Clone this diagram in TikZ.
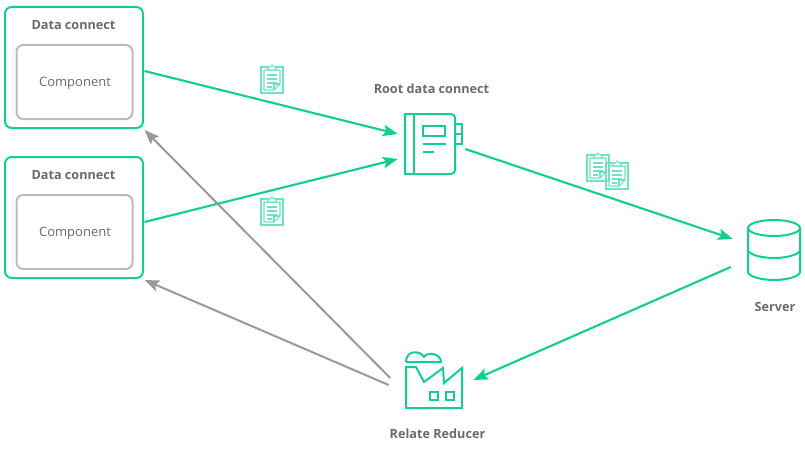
\documentclass[tikz,border=0pt]{standalone}
\usepackage{fontspec}
\setmainfont{Open Sans}
\usetikzlibrary{arrows.meta,calc}
\definecolor{connectgreen}{HTML}{12CE8F}
\definecolor{arrowgray}{HTML}{999999}
\definecolor{innergray}{HTML}{BBBBBB}
\definecolor{textgray}{HTML}{6A6A6A}
\tikzset{
  pics/clipboard/.style = {code = {
    \draw[paper] (-11,-13) rectangle (11,13);
    \draw[paper] (-8,-10) -- (8,-10) -- (8,4) -- (2,10) -- (-8,10) -- cycle;
    \draw[paper,fill=white] (-4,-10) -- (-4,-13) -- (-2,-13) -- (0,-15) -- (2,-13) -- (4,-13) -- (4,-10) -- cycle;
    \draw[paper] (2,10) -- (2,4) -- (8,4);
    \draw[paper] (-5,-5) -- (5,-5);
    \draw[paper] (-5,-1) -- (5,-1);
    \draw[paper] (-5,3) -- (5,3);
    \draw[paper] (-5,7) -- (0,7);
  }}
}
\begin{document}
\begin{tikzpicture}[
     x=0.75pt, y=-0.75pt,
     >={Stealth[length=11pt,width=8.5pt,inset=2pt]},
     paper/.style = {draw=connectgreen!60, line width=0.8pt},
     dcbox/.style = {rectangle, draw=connectgreen, line width=1.5pt, rounded corners=5pt, minimum width=103.5pt, minimum height=90.75pt},
     compbox/.style = {rectangle, draw=innergray, line width=1.5pt, rounded corners=5pt, minimum width=87pt, minimum height=55.5pt},
     icon/.style = {rectangle, inner sep=0pt, minimum width=39pt, minimum height=46pt},
     ink/.style = {draw=connectgreen, line width=1.5pt},
     title/.style = {text=textgray, font=\fontsize{9.5}{11}\selectfont\bfseries},
     plain/.style = {text=textgray, font=\fontsize{9.75}{11}\selectfont},
     green/.style = {->, draw=connectgreen, line width=1.6pt},
     gray/.style = {->, draw=arrowgray, line width=1.5pt}
                        ]
\useasboundingbox (0,0) rectangle (805,453);
% data connect boxes
\node (dcone)[dcbox] at (74,67.5) {};
\node (compone)[compbox] at (74.5,82) {};
\node (dconelabel)[title] at (73.5,25) {Data connect};
\node (componelabel)[plain] at (75,83) {Component};
\node (dctwo)[dcbox] at (74,217.5) {};
\node (comptwo)[compbox] at (74.5,232) {};
\node (dctwolabel)[title] at (73.5,175) {Data connect};
\node (comptwolabel)[plain] at (75,233) {Component};
% root data connect
\node (root)[icon] at (430,143.5) {};
\node (rootlabel)[title] at (431.5,89) {Root data connect};
\draw[ink] (455,120) -- (455,170) arc (0:90:4) -- (405,174) -- (405,114) -- (451,114) arc (-90:0:4) -- cycle;
\draw[ink] (413.5,114) -- (413.5,174);
\draw[ink] (455,124) -- (461.5,124) -- (461.5,144) -- (455,144);
\draw[ink] (455,134) -- (461.5,134);
\draw[ink] (423,126) rectangle (445,136);
\draw[ink] (423,144) -- (446,144);
\draw[ink] (423,152) -- (434,152);
% server
\node (server)[icon] at (774,250) {};
\node (serverlabel)[title] at (775,307) {Server};
\draw[ink] (774,228) ellipse (26 and 8);
\draw[ink] (748,228) -- (748,272) .. controls (748,276) and (760,280) .. (774,280) .. controls (788,280) and (800,276) .. (800,272) -- (800,228);
\draw[ink] (748,250) .. controls (748,254) and (760,258) .. (774,258) .. controls (788,258) and (800,254) .. (800,250);
% reducer
\node (reducer)[icon] at (434,380) {};
\node (reducerlabel)[title] at (437.5,433.5) {Relate Reducer};
\draw[ink] (406,367) -- (416,367) -- (424,382) -- (443,368) -- (444,383) -- (462,368) -- (462,408) -- (406,408) -- cycle;
\draw[ink] (430,392) rectangle (438,400);
\draw[ink] (446,392) rectangle (454,400);
\draw[ink] (406,362) -- (441,362) .. controls (441,354) and (428,351) .. (424,357) .. controls (420,350) and (406,350) .. (406,362);
% clipboards
\pic at (272,80) {clipboard};
\pic at (272,212) {clipboard};
\pic at (598,168) {clipboard};
\pic at (617,176) {clipboard};
% connectors
\draw[green] ($(dcone.east)+(0.5,3.5)$) -- ($(root.west)+(-6,-9.5)$);
\draw[green] ($(dctwo.east)+(0.5,4.5)$) -- ($(root.west)+(-6,15.5)$);
\draw[green] ($(root.east)+(9,5.5)$) -- ($(server.west)+(-15,-11)$);
\draw[green] ($(server.west)+(-17,17)$) -- ($(reducer.east)+(13,0)$);
\draw[gray] ($(reducer.west)+(-17.5,-2)$) -- ($(dcone.south east)+(0.5,1)$);
\draw[gray] ($(reducer.west)+(-19,5)$) -- ($(dctwo.south east)+(0.5,1)$);
\end{tikzpicture}
\end{document}
